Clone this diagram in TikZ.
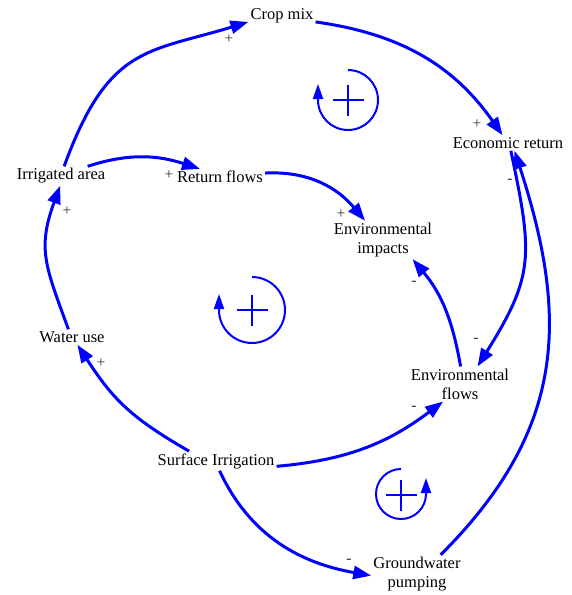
\documentclass[tikz,border=0pt]{standalone}
\usepackage{fontspec}
\setmainfont{Liberation Serif}
\usetikzlibrary{arrows.meta}

\begin{document}
\begin{tikzpicture}[x=1pt,y=1pt,
  var/.style={inner sep=2pt,align=center,font=\fontsize{16.5}{19}\selectfont},
  sgn/.style={inner sep=0pt,text=black!80,font=\fontsize{15.5}{17}\selectfont},
  link/.style={blue,line width=3pt,-{Triangle[length=18pt,width=13pt]}},
  loopar/.style={blue,line width=2pt,-{Triangle[length=15pt,width=10pt]}},
  plusmark/.style={blue,line width=2pt}]
%Рамка
\useasboundingbox (0,0) rectangle (571,-595);
%Переменные
\node[var] (crop) at (282,-16) {Crop mix};
\node[var] (econ) at (508,-143) {Economic return};
\node[var] (irr) at (61,-176) {Irrigated area};
\node[var] (ret) at (220,-177) {Return flows};
\node[var] (imp) at (383,-240) {Environmental\\impacts};
\node[var] (wu) at (72,-337) {Water use};
\node[var] (envf) at (460,-384) {Environmental\\flows};
\node[var] (surf) at (216,-461) {Surface Irrigation};
\node[var] (gw) at (417,-574) {Groundwater\\pumping};
%Связи
\draw[link] (irr.72) to[out=70,in=197,out distance=129pt,in distance=105pt] (crop.190);
\draw[link] (crop.-10) to[out=-8,in=125] (econ.125);
\draw[link] (irr.20) to[out=18,in=162] (ret.158);
\draw[link] (ret.5) to[out=3,in=130] (imp.133);
\draw[link] (econ.-70) to[out=-78,in=58,looseness=1.25] (envf.45);
\draw[link] (gw.39) to[out=45,in=-72,looseness=1.1] (econ.-50);
\draw[link] (envf.88) to[out=100,in=-50] (imp.-33);
\draw[link] (surf.160) to[out=150,in=-57,looseness=1.1] (wu.-55);
\draw[link] (wu.115) to[out=110,in=-110,looseness=1.2] (irr.-95);
\draw[link] (surf.-5) to[out=5,in=217] (envf.-134);
\draw[link] (surf.-70) to[out=-65,in=170] (gw.182);
%Знаки связей
\node[sgn] (s1) at (229,-39) {+};
\node[sgn] (s2) at (477,-124) {+};
\node[sgn] (s3) at (510,-181) {-};
\node[sgn] (s4) at (169,-175) {+};
\node[sgn] (s5) at (341,-214) {+};
\node[sgn] (s6) at (67,-211) {+};
\node[sgn] (s7) at (414,-283) {-};
\node[sgn] (s8) at (476,-340) {-};
\node[sgn] (s9) at (101,-363) {+};
\node[sgn] (s10) at (414,-408) {-};
\node[sgn] (s11) at (349,-561) {-};
%Петли
\draw[loopar] (348,-70) arc[start angle=90,end angle=-180,radius=30] -- ++(0,16);
\draw[plusmark] (332.5,-100) -- (363.5,-100) (348,-84.5) -- (348,-115.5);
\draw[loopar] (252,-277) arc[start angle=90,end angle=-180,radius=33] -- ++(0,16);
\draw[plusmark] (236.5,-310) -- (267.5,-310) (252,-294.5) -- (252,-325.5);
\draw[loopar] (401,-469) arc[start angle=90,end angle=360,radius=25] -- ++(0,16);
\draw[plusmark] (385.5,-495) -- (416.5,-495) (401,-479.5) -- (401,-510.5);
\end{tikzpicture}
\end{document}
